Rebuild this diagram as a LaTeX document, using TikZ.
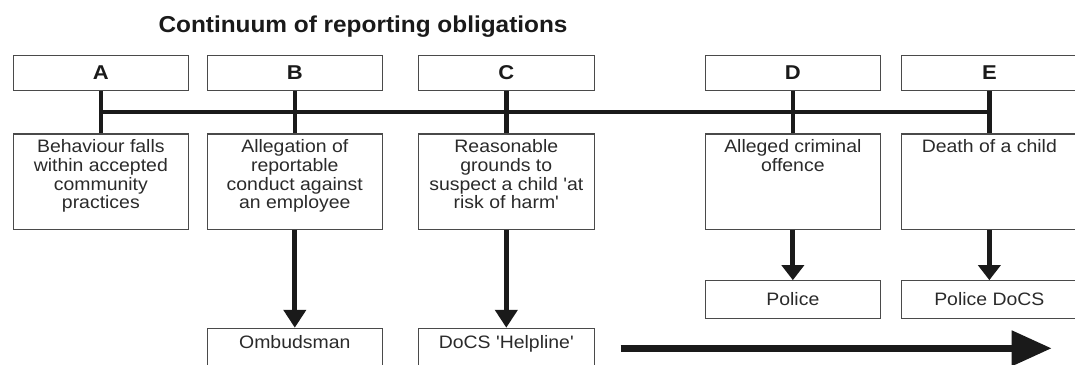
\documentclass[tikz,border=0pt]{standalone}
\usepackage{fontspec}
\setmainfont{Liberation Sans}
\newfontfamily\boxfont[FakeStretch=1.08]{Liberation Sans}
\newfontfamily\titlefont[FakeStretch=1.06]{Liberation Sans}
\newfontfamily\letterfont[FakeStretch=1.1]{Liberation Sans}
\usetikzlibrary{arrows.meta,calc}
\definecolor{boxgray}{HTML}{4A4A4A}
\definecolor{txtgray}{HTML}{2A2A2A}
\definecolor{linek}{HTML}{1A1A1A}
\begin{document}
\begin{tikzpicture}[x=1pt,y=-1pt,
  topbox/.style={draw=boxgray,line width=1.1pt,minimum width=175.5pt,minimum height=35.7pt,inner sep=0pt,
    font=\letterfont\bfseries\fontsize{20}{20}\selectfont,text=linek},
  lowbox/.style={draw=boxgray,line width=1.1pt,minimum width=175.5pt,minimum height=95.3pt,inner sep=0pt},
  destbox/.style={draw=boxgray,line width=1.1pt,minimum width=175.5pt,minimum height=37.6pt,inner sep=0pt,
    font=\boxfont\fontsize{18}{18.7}\selectfont,text=txtgray},
  openbox/.style={draw=boxgray,line width=1.1pt,minimum width=175.5pt,minimum height=46pt,inner sep=0pt},
  lbl/.style={anchor=north,inner sep=6pt,align=center,font=\boxfont\fontsize{18}{18.7}\selectfont,text=txtgray},
  lbltop/.style={anchor=north,inner sep=8pt,align=center,font=\boxfont\fontsize{18}{18.7}\selectfont,text=txtgray},
  conn/.style={draw=linek,line width=4.5pt},
  barline/.style={draw=linek,line width=4pt},
  arr/.style={draw=linek,line width=5pt,-{Triangle[length=18pt,width=22pt]}},
  arrshort/.style={draw=linek,line width=5pt,-{Triangle[length=15pt,width=22pt]}},
  bigarr/.style={draw=linek,line width=7pt,-{Triangle[length=40pt,width=34pt]}}
]
\useasboundingbox (0,0) rectangle (1075,364);
\clip (0,0) rectangle (1075,364);

% title
\node[anchor=base west,inner sep=0pt,font=\titlefont\bfseries\fontsize{23}{24}\selectfont,text=linek]
  (title) at (158.3,32.3) {Continuum of reporting obligations};

% top letter boxes
\node[topbox] (A) at (100.85,72.9) {A};
\node[topbox] (B) at (294.8,72.9) {B};
\node[topbox] (C) at (506.3,72.9) {C};
\node[topbox] (D) at (792.85,72.9) {D};
\node[topbox] (E) at (989.35,72.9) {E};

% description boxes
\node[lowbox,label={[lbl]north:Behaviour falls\\within accepted\\community\\practices}] (A2) at (100.85,181.65) {};
\node[lowbox,label={[lbl]north:Allegation of\\reportable\\conduct against\\an employee}] (B2) at (294.8,181.65) {};
\node[lowbox,label={[lbl]north:Reasonable\\grounds to\\suspect a child 'at\\risk of harm'}] (C2) at (506.3,181.65) {};
\node[lowbox,label={[lbl]north:Alleged criminal\\offence}] (D2) at (792.85,181.65) {};
\node[lowbox,label={[lbl]north:Death of a child}] (E2) at (989.35,181.65) {};

% destination boxes
\node[destbox] (D3) at (792.85,299.5) {Police};
\node[destbox] (E3) at (989.35,299.5) {Police DoCS};
\node[openbox,label={[lbltop]north:Ombudsman}] (B3) at (294.8,351.3) {};
\node[openbox,label={[lbltop]north:DoCS 'Helpline'}] (C3) at (506.3,351.3) {};

% connectors from letter boxes to description boxes
\foreach \n in {A,B,C,D,E}{
  \draw[conn] (\n.south) -- (\n2.north);
}
\draw[barline] ($(A.south)!0.5!(A2.north)$) -- ($(E.south)!0.5!(E2.north)$);

% arrows to destinations
\draw[arr] (B2.south) -- (B3.north);
\draw[arr] (C2.south) -- (C3.north);
\draw[arrshort] (D2.south) -- (D3.north);
\draw[arrshort] (E2.south) -- (E3.north);

% big continuum arrow
\coordinate (bigL) at (620.7,348.3);
\coordinate (bigR) at (1051.7,348.3);
\draw[bigarr] (bigL) -- (bigR);
\end{tikzpicture}
\end{document}
